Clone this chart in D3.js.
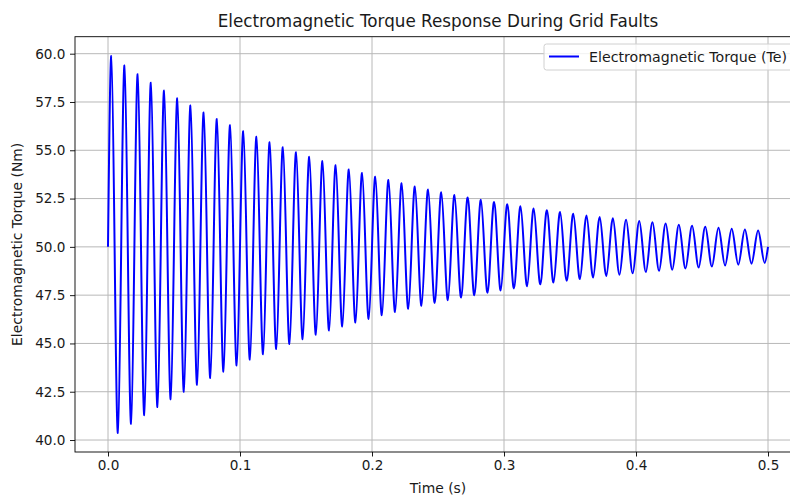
<!DOCTYPE html>
<html>
<head>
<meta charset="utf-8">
<script src="https://cdn.jsdelivr.net/npm/d3@7"></script>
<style>
  html, body { margin: 0; padding: 0; background: #fff; }
  svg { display: block; font-family: "DejaVu Sans", sans-serif; }
</style>
</head>
<body>
<svg id="chart" width="790" height="495"></svg>
<script>
// Torque oscillation: crest and trough values for each 10 ms cycle (Nm)
const peakTimes = [0.0025,0.0125,0.0225,0.0325,0.0425,0.0525,0.0625,0.0725,0.0825,0.0925,
  0.1025,0.1125,0.1225,0.1325,0.1425,0.1525,0.1625,0.1725,0.1825,0.1925,
  0.2025,0.2125,0.2225,0.2325,0.2425,0.2525,0.2625,0.2725,0.2825,0.2925,
  0.3025,0.3125,0.3225,0.3325,0.3425,0.3525,0.3625,0.3725,0.3825,0.3925,
  0.4025,0.4125,0.4225,0.4325,0.4425,0.4525,0.4625,0.4725,0.4825,0.4925];
const peakValues = [59.88,59.39,58.94,58.50,58.09,57.69,57.32,56.96,56.62,56.30,
  55.99,55.70,55.42,55.16,54.90,54.66,54.44,54.22,54.01,53.82,
  53.63,53.46,53.29,53.13,52.97,52.83,52.69,52.56,52.44,52.32,
  52.20,52.10,51.99,51.90,51.80,51.72,51.63,51.55,51.48,51.41,
  51.34,51.27,51.21,51.15,51.09,51.04,50.99,50.94,50.90,50.85];
const troughTimes = [0.0075,0.0175,0.0275,0.0375,0.0475,0.0575,0.0675,0.0775,0.0875,0.0975,
  0.1075,0.1175,0.1275,0.1375,0.1475,0.1575,0.1675,0.1775,0.1875,0.1975,
  0.2075,0.2175,0.2275,0.2375,0.2475,0.2575,0.2675,0.2775,0.2875,0.2975,
  0.3075,0.3175,0.3275,0.3375,0.3475,0.3575,0.3675,0.3775,0.3875,0.3975,
  0.4075,0.4175,0.4275,0.4375,0.4475,0.4575,0.4675,0.4775,0.4875,0.4975];
const troughValues = [40.37,40.84,41.29,41.71,42.11,42.50,42.86,43.21,43.54,43.86,
  44.16,44.44,44.71,44.97,45.22,45.45,45.67,45.88,46.08,46.27,
  46.46,46.63,46.79,46.95,47.10,47.24,47.38,47.50,47.63,47.74,
  47.85,47.96,48.06,48.15,48.24,48.33,48.41,48.49,48.56,48.63,
  48.70,48.76,48.82,48.88,48.93,48.98,49.03,49.08,49.13,49.17];
// Times where the torque passes back through its 50 Nm mean
const crossingTimes = [0,0.005,0.01,0.015,0.02,0.025,0.03,0.035,0.04,0.045,0.05,0.055,0.06,0.065,0.07,0.075,0.08,0.085,0.09,0.095,
  0.1,0.105,0.11,0.115,0.12,0.125,0.13,0.135,0.14,0.145,0.15,0.155,0.16,0.165,0.17,0.175,0.18,0.185,0.19,0.195,
  0.2,0.205,0.21,0.215,0.22,0.225,0.23,0.235,0.24,0.245,0.25,0.255,0.26,0.265,0.27,0.275,0.28,0.285,0.29,0.295,
  0.3,0.305,0.31,0.315,0.32,0.325,0.33,0.335,0.34,0.345,0.35,0.355,0.36,0.365,0.37,0.375,0.38,0.385,0.39,0.395,
  0.4,0.405,0.41,0.415,0.42,0.425,0.43,0.435,0.44,0.445,0.45,0.455,0.46,0.465,0.47,0.475,0.48,0.485,0.49,0.495,0.5];
const meanTorque = 50;

const xTicks = [0.0, 0.1, 0.2, 0.3, 0.4, 0.5];
const yTicks = [40.0, 42.5, 45.0, 47.5, 50.0, 52.5, 55.0, 57.5, 60.0];

const titleText = "Electromagnetic Torque Response During Grid Faults";
const xLabel = "Time (s)";
const yLabel = "Electromagnetic Torque (Nm)";
const seriesName = "Electromagnetic Torque (Te)";

// Merge all samples into one time-ordered series
const series = [];
crossingTimes.forEach(t => series.push({ t, v: meanTorque }));
peakTimes.forEach((t, i) => series.push({ t, v: peakValues[i] }));
troughTimes.forEach((t, i) => series.push({ t, v: troughValues[i] }));
series.sort((a, b) => a.t - b.t);

const svg = d3.select("#chart");
const plot = { left: 75, right: 801, top: 36.7, bottom: 452 };
const textColor = "#1a1a1a";

const x = d3.scaleLinear().domain([-0.025, 0.525]).range([plot.left, plot.right]);
const y = d3.scaleLinear().domain([39.38, 60.88]).range([plot.bottom, plot.top]);

svg.append("clipPath").attr("id", "plotclip")
  .append("rect").attr("x", plot.left).attr("y", plot.top)
  .attr("width", plot.right - plot.left).attr("height", plot.bottom - plot.top);

// Grid
const grid = svg.append("g").attr("clip-path", "url(#plotclip)");
grid.selectAll("line.gx").data(xTicks).join("line")
  .attr("class", "gx")
  .attr("x1", d => x(d)).attr("x2", d => x(d))
  .attr("y1", plot.top).attr("y2", plot.bottom)
  .attr("stroke", "#b8b8b8").attr("stroke-width", 1);
grid.selectAll("line.gy").data(yTicks).join("line")
  .attr("class", "gy")
  .attr("x1", plot.left).attr("x2", plot.right)
  .attr("y1", d => y(d)).attr("y2", d => y(d))
  .attr("stroke", "#b8b8b8").attr("stroke-width", 1);

// Torque trace
const path = d3.line().x(d => x(d.t)).y(d => y(d.v)).curve(d3.curveNatural);
svg.append("path").datum(series)
  .attr("clip-path", "url(#plotclip)")
  .attr("d", path)
  .attr("fill", "none")
  .attr("stroke", "#0000ff")
  .attr("stroke-width", 2)
  .attr("stroke-linejoin", "round");

// Axes
const xAxis = d3.axisBottom(x).tickValues(xTicks).tickFormat(d3.format(".1f")).tickSizeOuter(0).tickSize(4.5).tickPadding(4);
const yAxis = d3.axisLeft(y).tickValues(yTicks).tickFormat(d3.format(".1f")).tickSizeOuter(0).tickSize(5).tickPadding(4.5);

const gx = svg.append("g").attr("transform", `translate(0,${plot.bottom})`).call(xAxis);
const gy = svg.append("g").attr("transform", `translate(${plot.left},0)`).call(yAxis);
[gx, gy].forEach(g => {
  g.select(".domain").remove();
  g.selectAll(".tick line").attr("stroke", "#000").attr("stroke-width", 0.9);
  g.selectAll(".tick text").attr("fill", textColor).attr("font-size", "13.6px")
    .attr("font-family", "DejaVu Sans, sans-serif");
});
gx.selectAll(".tick text").attr("dy", "0.71em");

// Frame
svg.append("rect")
  .attr("x", plot.left).attr("y", plot.top)
  .attr("width", plot.right - plot.left).attr("height", plot.bottom - plot.top)
  .attr("fill", "none").attr("stroke", "#000").attr("stroke-width", 0.9);

// Titles
const cx = (plot.left + plot.right) / 2;
svg.append("text").attr("x", cx).attr("y", 26.5)
  .attr("text-anchor", "middle").attr("font-size", "16.8px").attr("fill", textColor)
  .text(titleText);
svg.append("text").attr("x", cx).attr("y", 493)
  .attr("text-anchor", "middle").attr("font-size", "13.9px").attr("fill", textColor)
  .text(xLabel);
svg.append("text")
  .attr("transform", `translate(22,${(plot.top + plot.bottom) / 2}) rotate(-90)`)
  .attr("text-anchor", "middle").attr("font-size", "13.9px").attr("fill", textColor)
  .text(yLabel);

// Legend
const lg = svg.append("g");
lg.append("rect").attr("x", 544).attr("y", 44).attr("width", 256).attr("height", 26)
  .attr("rx", 2.5).attr("fill", "#fff").attr("fill-opacity", 0.8)
  .attr("stroke", "#d0d0d0").attr("stroke-width", 1);
lg.append("line").attr("x1", 549).attr("x2", 579).attr("y1", 56.5).attr("y2", 56.5)
  .attr("stroke", "#0000ff").attr("stroke-width", 2);
lg.append("text").attr("x", 589).attr("y", 61.5)
  .attr("font-size", "14.2px").attr("fill", textColor).text(seriesName);
</script>
</body>
</html>
